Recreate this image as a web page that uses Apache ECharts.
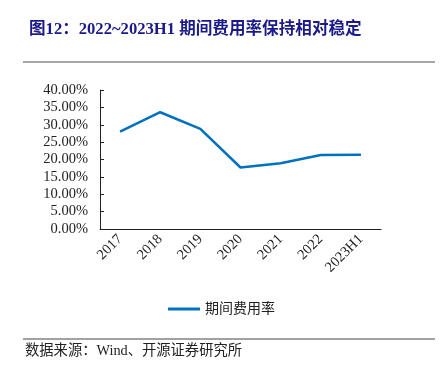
<!DOCTYPE html>
<html>
<head>
<meta charset="utf-8">
<script src="https://cdn.jsdelivr.net/npm/echarts@6/dist/echarts.min.js"></script>
<style>
  html, body { margin: 0; padding: 0; background: #fff; }
  #chart { width: 443px; height: 378px; }
</style>
</head>
<body>
<div id="chart"></div>
<script>
// 数据
const years = ['2017', '2018', '2019', '2020', '2021', '2022', '2023H1']
const expenseRate = [28.0, 33.6, 28.8, 17.7, 18.9, 21.3, 21.4]
const seriesName = '期间费用率'

const serif = '"Liberation Serif", "Times New Roman", serif'
const cjk = '"Liberation Serif", "Noto Sans CJK SC", serif'

const myChart = echarts.init(document.getElementById('chart'))
myChart.setOption({
  animation: false,
  title: {
    text: '图12：2022~2023H1 期间费用率保持相对稳定',
    left: 24,
    top: 16,
    textStyle: { color: '#1a1a8a', fontSize: 16.6, fontWeight: 'bold', fontFamily: cjk }
  },
  graphic: [
    { type: 'line', shape: { x1: 23, y1: 62, x2: 435, y2: 62 }, style: { stroke: '#888', lineWidth: 1.5 } },
    { type: 'line', shape: { x1: 23, y1: 339, x2: 435, y2: 339 }, style: { stroke: '#444', lineWidth: 1 } },
    {
      type: 'text', left: 25, top: 344,
      style: { text: '数据来源：Wind、开源证券研究所', fill: '#222', font: '14.3px ' + cjk }
    }
  ],
  legend: {
    left: 163,
    top: 297,
    itemWidth: 32,
    itemHeight: 3,
    itemGap: 4,
    textStyle: { color: '#222', fontSize: 14, fontFamily: cjk },
    data: [{ name: seriesName, icon: 'rect' }]
  },
  grid: { left: 100, right: 62, top: 90, bottom: 149 },
  xAxis: {
    type: 'category',
    data: years,
    axisLine: { lineStyle: { color: '#222', width: 1 } },
    axisTick: { inside: true, length: 4, lineStyle: { color: '#222' } },
    axisLabel: { rotate: 45, color: '#222', fontSize: 14.5, fontFamily: serif, margin: 8, interval: 0 }
  },
  yAxis: {
    type: 'value',
    min: 0,
    max: 40,
    interval: 5,
    axisLine: { show: true, lineStyle: { color: '#222', width: 1 } },
    axisTick: { show: true, inside: true, length: 4, lineStyle: { color: '#222' } },
    splitLine: { show: false },
    axisLabel: {
      color: '#222', fontSize: 14.5, fontFamily: serif, margin: 12,
      formatter: v => v.toFixed(2) + '%'
    }
  },
  series: [
    {
      name: seriesName,
      type: 'line',
      data: expenseRate,
      symbol: 'none',
      lineStyle: { color: '#0070c0', width: 2.5 },
      itemStyle: { color: '#0070c0' }
    }
  ]
})
</script>
</body>
</html>
